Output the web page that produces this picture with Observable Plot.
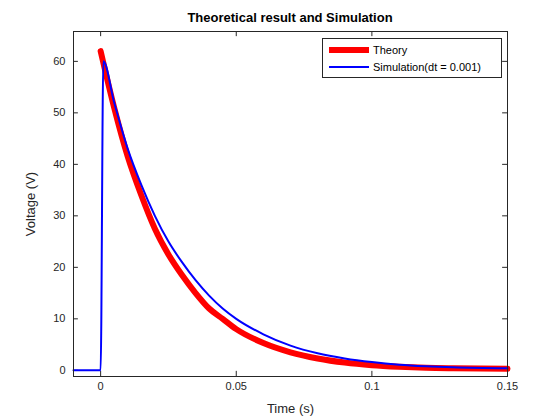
<!DOCTYPE html>
<html><head>
<script src="https://cdn.jsdelivr.net/npm/d3@7"></script>
<script src="https://cdn.jsdelivr.net/npm/@observablehq/plot@0.6"></script>
<style>
body{margin:0;background:#fff;font-family:"Liberation Sans",Arial,sans-serif;}
#wrap{position:relative;width:560px;height:420px;}
#title{height:28px;line-height:36px;text-align:center;font-weight:bold;font-size:13px;color:#000;padding-left:20px;box-sizing:border-box;}
#legend{position:absolute;left:322px;top:38px;width:180px;height:40px;border:1px solid #262626;background:#fff;font-size:11px;box-sizing:border-box;}
.row{position:absolute;left:6px;height:14px;display:flex;align-items:center;}
.sw{width:40px;margin-right:4px;}
</style></head><body>
<div id="wrap">
<div id="title">Theoretical result and Simulation</div>
<div id="chart"></div>
<div id="legend">
<div class="row" style="top:4px"><div class="sw" style="height:6px;background:#ff0000"></div>Theory</div>
<div class="row" style="top:21px"><div class="sw" style="height:2px;background:#0000ff"></div>Simulation(dt = 0.001)</div>
</div>
</div>
<script>
const theoryT = [0,0.005,0.01,0.015,0.02,0.025,0.03,0.035,0.04,0.045,0.05,0.06,0.07,0.08,0.09,0.1,0.11,0.12,0.13,0.15];
const theoryV = [62,51,41.5,34,27.5,22.5,18.5,15,12,10,8,5.3,3.5,2.3,1.5,1,0.7,0.5,0.4,0.3];
const simT = [-0.01,-0.001,0,0.001,0.005,0.01,0.015,0.02,0.025,0.03,0.035,0.04,0.045,0.05,0.06,0.07,0.08,0.09,0.1,0.11,0.12,0.13,0.15];
const simV = [0,0,0,60,52,43,36,30,25,21,17.5,14.5,12,10,7,4.8,3.3,2.3,1.6,1.1,0.8,0.6,0.4];
const xTicks = [0,0.05,0.1,0.15];
const yTicks = [0,10,20,30,40,50,60];
const theory = theoryT.map((t,i)=>({t,v:theoryV[i]}));
const sim = simT.map((t,i)=>({t,v:simV[i]}));
const xd=[-0.01,0.15], yd=[-1.2,65.8];
const ink="#262626";
const p = Plot.plot({
  width:560,height:392,marginLeft:73,marginRight:53,marginTop:3,marginBottom:44,
  style:{fontFamily:"Liberation Sans, Arial, sans-serif",fontSize:"11px",color:ink},
  x:{domain:xd,ticks:xTicks,tickFormat:d=>String(d),label:"Time (s)",labelAnchor:"center",labelArrow:"none"},
  y:{domain:yd,ticks:yTicks,label:"Voltage (V)",labelAnchor:"center",labelArrow:"none"},
  marks:[
    Plot.axisX({ticks:xTicks,tickSize:0,tickPadding:6,tickFormat:d=>String(d),label:"Time (s)",labelAnchor:"center",labelArrow:"none",labelOffset:36,fontSize:11}),
    Plot.axisY({ticks:yTicks,tickSize:0,tickPadding:8,label:"Voltage (V)",labelAnchor:"center",labelArrow:"none",labelOffset:48}),
    Plot.ruleX(xTicks,{x:d=>d,y1:yd[0],y2:yd[0]+1,stroke:ink}),
    Plot.ruleX(xTicks,{x:d=>d,y1:yd[1]-1,y2:yd[1],stroke:ink}),
    Plot.ruleY(yTicks,{y:d=>d,x1:xd[0],x2:xd[0]+0.0018,stroke:ink}),
    Plot.ruleY(yTicks,{y:d=>d,x1:xd[1]-0.0018,x2:xd[1],stroke:ink}),
    Plot.line(theory,{x:"t",y:"v",stroke:"#ff0000",strokeWidth:6,curve:"monotone-x"}),
    Plot.line(sim,{x:"t",y:"v",stroke:"#0000ff",strokeWidth:2,curve:"monotone-x"}),
    Plot.frame({stroke:ink})
  ]
});
p.querySelectorAll('[aria-label="x-axis label"] text, [aria-label="y-axis label"] text').forEach(t=>t.style.fontSize="13px");
document.getElementById("chart").appendChild(p);
</script>
</body></html>
